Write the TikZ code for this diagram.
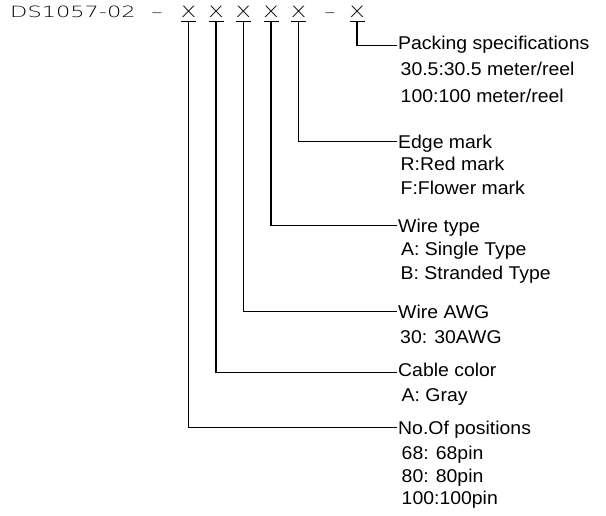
\documentclass[tikz,border=0pt]{standalone}
\usepackage{fontspec}
\setmainfont{Liberation Sans}[FakeStretch=1.05]
\newfontfamily\cadfont{DejaVu Sans ExtraLight}[FakeStretch=1.45]
\usepackage{tikz}
\usetikzlibrary{positioning}
\tikzset{
  code/.style={inner sep=0pt, anchor=base, font=\cadfont\fontsize{15.5}{18}\selectfont},
  lbl/.style={inner sep=0pt, anchor=base west, font=\fontsize{18.5}{22}\selectfont},
  wire/.style={line width=1.1pt, black}
}

\begin{document}
\begin{tikzpicture}[x=1pt, y=-1pt]
  \useasboundingbox (0,0) rectangle (606,516);
  % part number
  \node[code, anchor=base west] (pn) at (10,17.3) {DS1057-02};
  \node[code] (dash1) at (157,17.3) {–};
  \node[code] (x1) at (188.5,17.3) {X};
  \node[code] (x2) at (216,17.3) {X};
  \node[code] (x3) at (243.3,17.3) {X};
  \node[code] (x4) at (271,17.3) {X};
  \node[code] (x5) at (298.5,17.3) {X};
  \node[code] (dash2) at (330,17.3) {–};
  \node[code] (x6) at (357,17.3) {X};

  % descriptions
  \node[lbl] (pack) at (398,49.5) {Packing specifications};
  \node[lbl] (pack1) at (400.5,76) {30.5:30.5 meter/reel};
  \node[lbl] (pack2) at (400.5,102.5) {100:100 meter/reel};
  \node[lbl] (edge) at (398,148.6) {Edge mark};
  \node[lbl] (edge1) at (400.5,171) {R:Red mark};
  \node[lbl] (edge2) at (400.5,194.3) {F:Flower mark};
  \node[lbl] (type) at (398,232.5) {Wire type};
  \node[lbl] (type1) at (401,255.9) {A: Single Type};
  \node[lbl] (type2) at (400.5,279.3) {B: Stranded Type};
  \node[lbl] (awg) at (398,319) {Wire AWG};
  \node[lbl] (awg1) at (400,344) {30: 30AWG};
  \node[lbl] (color) at (398,376.5) {Cable color};
  \node[lbl] (color1) at (401.5,401) {A: Gray};
  \node[lbl] (pos) at (398,434.3) {No.Of positions};
  \node[lbl] (pos1) at (401.5,459.3) {68: 68pin};
  \node[lbl] (pos2) at (401.5,482) {80: 80pin};
  \node[lbl] (pos3) at (401.5,504.3) {100:100pin};

  % ticks under the X
  \draw[wire] ([xshift=-7.5pt,yshift=-4pt]x1.base) -- ([xshift=7.5pt,yshift=-4pt]x1.base);
  \draw[wire] ([xshift=-7.5pt,yshift=-4pt]x2.base) -- ([xshift=7.5pt,yshift=-4pt]x2.base);
  \draw[wire] ([xshift=-7.5pt,yshift=-4pt]x3.base) -- ([xshift=7.5pt,yshift=-4pt]x3.base);
  \draw[wire] ([xshift=-7.5pt,yshift=-4pt]x4.base) -- ([xshift=7.5pt,yshift=-4pt]x4.base);
  \draw[wire] ([xshift=-7.5pt,yshift=-4pt]x5.base) -- ([xshift=7.5pt,yshift=-4pt]x5.base);
  \draw[wire] ([xshift=-7.5pt,yshift=-4pt]x6.base) -- ([xshift=7.5pt,yshift=-4pt]x6.base);

  % leaders
  \draw[wire] ([yshift=-4pt]x6.base) |- ([xshift=-1pt,yshift=3.8pt]pack.base west);
  \draw[wire] ([yshift=-4pt]x5.base) |- ([xshift=-1pt,yshift=6.9pt]edge.base west);
  \draw[wire] ([yshift=-4pt]x4.base) |- ([xshift=-1pt,yshift=6.8pt]type.base west);
  \draw[wire] ([yshift=-4pt]x3.base) |- ([xshift=-1pt,yshift=7.3pt]awg.base west);
  \draw[wire] ([yshift=-4pt]x2.base) |- ([xshift=-1pt,yshift=3.8pt]color.base west);
  \draw[wire] ([yshift=-4pt]x1.base) |- ([xshift=-1pt,yshift=6.6pt]pos.base west);
\end{tikzpicture}
\end{document}
